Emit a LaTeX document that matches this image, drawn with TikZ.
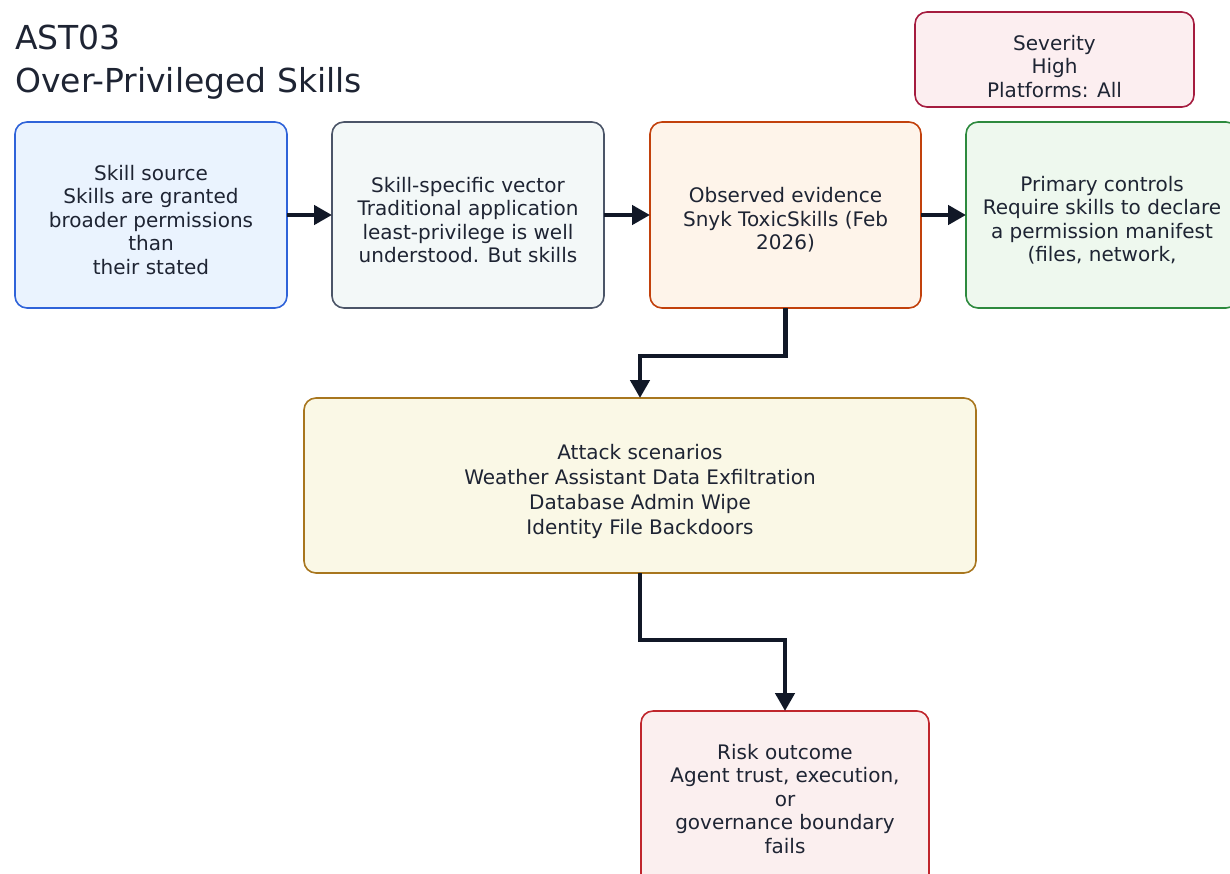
\documentclass[tikz,border=0pt]{standalone}
\usepackage{fontspec}
\setmainfont{DejaVu Sans}
\usetikzlibrary{arrows.meta}

\definecolor{ink}{HTML}{111827}
\definecolor{txtc}{HTML}{1E2433}
\definecolor{sevfill}{HTML}{FCEEF0}\definecolor{sevdraw}{HTML}{A51C3F}
\definecolor{srcfill}{HTML}{EAF3FE}\definecolor{srcdraw}{HTML}{2F63D9}
\definecolor{vecfill}{HTML}{F3F8F8}\definecolor{vecdraw}{HTML}{4B5568}
\definecolor{evifill}{HTML}{FEF4EA}\definecolor{evidraw}{HTML}{C2410C}
\definecolor{ctlfill}{HTML}{EEF8EE}\definecolor{ctldraw}{HTML}{2D8A3E}
\definecolor{atkfill}{HTML}{FAF8E6}\definecolor{atkdraw}{HTML}{A8761E}
\definecolor{rskfill}{HTML}{FBEFEF}\definecolor{rskdraw}{HTML}{C0262D}

\begin{document}
\begin{tikzpicture}[x=1pt,y=-1pt,
  card/.style={draw, rounded corners=12pt, line width=1.6pt, anchor=north west,
               inner sep=0pt, outer sep=0pt},
  lbl/.style={align=center, text=txtc, inner sep=0pt,
              font=\fontsize{20}{23.5}\selectfont},
  ttl/.style={anchor=base west, text=txtc, inner sep=0pt,
              font=\fontsize{33}{38}\selectfont},
  flow/.style={draw=ink, line width=4.5pt, line join=miter,
               -{Triangle[length=18pt,width=19pt]}}]
\useasboundingbox (0,0) rectangle (1230,873);
\clip (0,0) rectangle (1230,873);

% title
\node[ttl] (t1) at (15,49) {AST03};
\node[ttl] (t2) at (15,92) {Over-Privileged Skills};

% severity badge
\node[card, draw=sevdraw, fill=sevfill, minimum width=279pt, minimum height=95pt] (sev) at (915,12) {};
\node[lbl] (sevt) at ([yshift=-7pt]sev.center) {Severity\\High\\Platforms: All};

% top row
\node[card, draw=srcdraw, fill=srcfill, minimum width=272pt, minimum height=186pt] (b1) at (15,122) {};
\node[card, draw=vecdraw, fill=vecfill, minimum width=272pt, minimum height=186pt] (b2) at (332,122) {};
\node[card, draw=evidraw, fill=evifill, minimum width=271pt, minimum height=186pt] (b3) at (650,122) {};
\node[card, draw=ctldraw, fill=ctlfill, minimum width=272pt, minimum height=186pt] (b4) at (966,122) {};

\node[lbl] (b1t) at ([yshift=-5pt]b1.center) {Skill source\\Skills are granted\\broader permissions\\than\\their stated};
\node[lbl] (b2t) at ([yshift=-5pt]b2.center) {Skill-specific vector\\Traditional application\\least-privilege is well\\understood. But skills};
\node[lbl] (b3t) at ([yshift=-5pt]b3.center) {Observed evidence\\Snyk ToxicSkills (Feb\\2026)};
\node[lbl] (b4t) at ([yshift=-5pt]b4.center) {Primary controls\\Require skills to declare\\a permission manifest\\(files, network,};

% attack scenarios
\node[card, draw=atkdraw, fill=atkfill, minimum width=672pt, minimum height=175pt] (atk) at (304,398) {};
\node[lbl, font=\fontsize{20}{25}\selectfont] (atkt) at ([yshift=-6pt]atk.center) {Attack scenarios\\Weather Assistant Data Exfiltration\\Database Admin Wipe\\Identity File Backdoors};

% risk outcome
\node[card, draw=rskdraw, fill=rskfill, minimum width=288pt, minimum height=176pt] (rsk) at (641,711) {};
\node[lbl] (rskt) at (rsk.center) {Risk outcome\\Agent trust, execution,\\or\\governance boundary\\fails};

% connectors
\draw[flow] (b1.east) -- (b2.west);
\draw[flow] (b2.east) -- (b3.west);
\draw[flow] (b3.east) -- (b4.west);
\draw[flow] (b3.south) -- ++(0,48) -| (atk.north);
\draw[flow] (atk.south) -- ++(0,67) -| (rsk.north);
\end{tikzpicture}
\end{document}
